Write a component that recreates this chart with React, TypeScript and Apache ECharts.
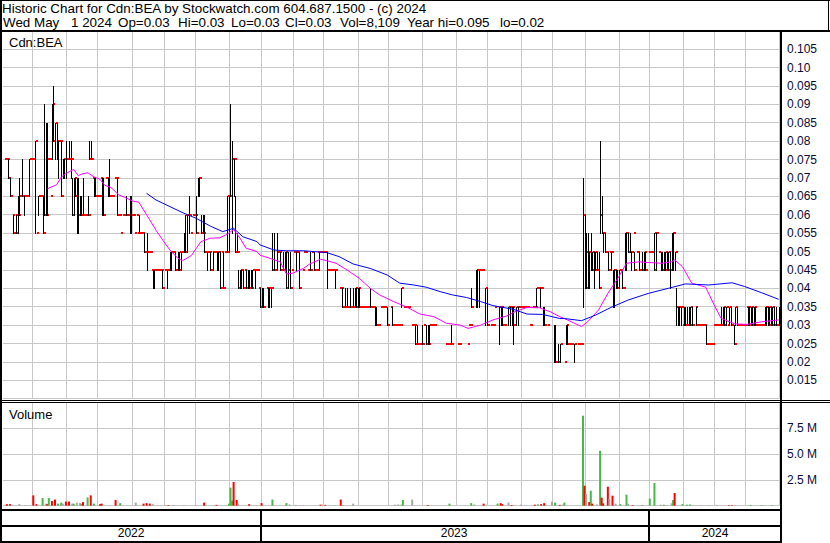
import React, { useEffect, useRef } from "react";
import * as echarts from "echarts";

const FONT = '"Liberation Sans", Arial, Helvetica, sans-serif';

// ---- calendar (TSX-V trading days) ----
const FIRST_DAY = [2022, 5, 4];
const LAST_DAY = [2024, 5, 1];
const HOLIDAYS = [
  "2022-05-23", "2022-07-01", "2022-08-01", "2022-09-05", "2022-10-10", "2022-12-26", "2022-12-27",
  "2023-01-02", "2023-02-20", "2023-04-07", "2023-05-22", "2023-07-03", "2023-08-07", "2023-09-04",
  "2023-10-09", "2023-12-25", "2023-12-26", "2024-01-01", "2024-02-19", "2024-03-29",
];

// ---- price data, thousandths of a dollar (0 = no trade) ----
const highMils = [
  75,75,75,75,70,60,60,60,60,65,
  70,65,75,65,65,65,75,75,75,75,
  80,55,65,65,65,65,90,85,85,75,
  65,90,95,85,85,80,80,80,75,75,
  80,75,80,80,70,70,70,70,70,65,
  65,70,60,60,65,80,80,70,70,70,
  65,65,70,70,70,70,70,70,75,65,
  65,70,70,70,60,55,60,60,60,65,
  60,65,65,60,55,60,55,60,55,55,
  55,50,55,50,50,45,45,45,45,45,
  45,45,45,45,45,45,45,50,50,50,
  50,45,50,50,50,50,55,60,60,65,
  55,60,60,60,65,70,70,60,60,60,
  50,50,50,50,50,50,50,50,50,
  50,50,50,50,50,65,65,90,80,75,
  65,55,45,45,45,45,45,45,45,45,
  45,45,45,45,45,40,40,40,40,0,
  40,40,40,40,55,55,50,55,50,50,
  45,50,50,50,50,50,45,50,50,50,
  50,50,0,45,50,50,45,45,50,50,
  0,50,45,50,50,50,50,50,50,50,
  45,45,45,45,45,0,0,40,40,40,
  0,40,40,35,40,35,40,40,40,40,
  40,35,35,35,35,35,35,40,35,35,
  35,35,30,35,35,35,35,0,35,0,
  35,35,30,30,30,30,30,40,35,
  35,35,35,0,30,30,30,30,30,25,
  25,30,30,0,30,30,30,30,30,30,
  0,0,0,0,0,0,25,25,25,0,
  30,0,0,0,25,25,0,0,0,0,
  25,30,30,40,0,0,45,45,45,45,
  45,0,40,40,0,30,30,30,35,0,
  0,35,35,35,30,0,0,35,35,35,
  35,0,35,35,35,35,35,35,35,35,
  30,30,35,35,35,40,40,40,40,35,
  35,0,30,0,0,0,30,30,20,25,
  25,0,0,20,30,30,25,25,0,25,
  0,25,25,25,25,70,60,55,55,50,
  55,50,50,50,50,50,80,65,55,55,
  50,50,50,50,45,45,45,45,45,45,
  45,40,55,55,55,55,50,55,50,50,
  50,50,45,50,50,50,0,50,50,50,
  45,55,55,50,0,50,50,50,50,50,
  50,50,55,55,50,40,35,35,35,30,
  35,35,35,35,35,35,0,35,35,30,
  30,30,30,30,30,25,25,25,25,30,
  30,30,30,30,35,35,35,35,30,35,
  35,0,30,35,35,30,30,30,30,30,
  35,35,35,35,35,35,35,30,30,30,
  30,30,35,35,35,35,35,35,35,35,
  30,35,30,
];
const lowMils = [
  75,75,75,70,65,60,55,60,55,55,
  60,65,65,60,65,65,65,75,75,75,
  55,55,60,65,65,55,60,60,60,75,
  65,75,80,75,75,70,80,65,70,70,
  70,75,75,70,60,60,65,55,55,60,
  60,60,60,60,60,75,75,70,65,65,
  65,65,70,60,60,70,70,65,65,65,
  65,70,70,60,60,55,60,60,60,60,
  60,55,55,60,55,60,55,55,55,55,
  50,50,45,50,50,45,40,40,45,45,
  45,45,40,45,45,40,45,45,45,50,
  45,45,45,45,45,50,50,50,50,55,
  55,60,60,60,55,65,65,55,55,50,
  50,45,50,45,50,45,50,45,45,
  40,50,40,50,50,50,50,65,55,65,
  50,50,40,40,40,40,45,40,40,40,
  40,40,45,40,45,40,35,35,35,0,
  40,35,35,35,45,45,50,45,50,45,
  45,45,45,40,40,40,45,50,50,45,
  50,40,0,45,50,50,45,45,45,50,
  0,45,45,50,45,50,50,50,50,40,
  45,45,45,45,40,0,0,40,40,35,
  0,35,35,35,35,35,35,35,35,35,
  35,35,35,35,35,35,35,35,35,35,
  30,30,30,35,35,35,35,0,30,0,
  35,30,30,30,30,30,30,35,35,
  35,35,35,0,30,30,30,25,25,25,
  25,25,30,0,25,25,25,30,30,30,
  0,0,0,0,0,0,25,25,25,0,
  25,0,0,0,25,25,0,0,0,0,
  25,30,30,35,0,0,35,35,35,45,
  45,0,30,30,0,30,30,30,35,0,
  0,25,30,30,30,0,0,30,30,30,
  25,0,30,30,35,35,35,35,35,35,
  30,30,35,35,35,35,40,35,40,30,
  30,0,30,0,0,0,20,20,20,20,
  20,0,0,20,25,25,25,25,0,20,
  0,25,25,25,25,35,40,40,40,40,
  45,45,40,45,45,40,55,55,50,50,
  50,45,50,45,35,35,40,40,40,45,
  40,40,45,45,50,50,45,55,45,50,
  50,45,45,45,45,45,0,50,50,50,
  45,45,45,50,0,45,45,45,45,45,
  45,40,45,45,45,30,30,30,30,30,
  30,30,30,30,30,30,0,35,30,30,
  30,30,30,30,25,25,25,25,25,30,
  30,30,30,30,30,30,30,30,30,30,
  30,0,25,30,30,30,30,30,30,30,
  35,30,30,30,30,30,30,30,30,30,
  30,30,30,30,30,30,30,30,30,30,
  30,30,30,
];
const closeMils = [
  75,75,75,70,65,60,55,60,55,60,
  65,65,65,65,65,65,75,75,75,75,
  80,55,65,65,65,55,60,60,75,75,
  65,90,80,85,80,80,80,65,75,75,
  75,75,75,75,60,70,65,60,60,60,
  60,60,60,60,60,75,75,70,65,65,
  65,65,70,60,60,70,70,65,65,65,
  65,70,70,60,60,55,60,60,60,60,
  60,60,60,60,55,60,55,55,55,55,
  50,50,50,50,50,45,45,45,45,45,
  45,45,40,45,45,45,45,50,50,50,
  45,45,45,50,50,50,50,60,60,60,
  55,60,60,60,55,70,70,55,55,50,
  50,50,50,45,50,50,50,50,50,
  40,50,40,50,50,65,65,65,75,75,
  50,50,40,45,45,40,45,40,40,40,
  40,45,45,45,45,40,35,35,35,0,
  40,40,40,40,45,45,50,50,50,45,
  45,45,50,40,45,40,45,50,50,50,
  50,40,0,45,50,50,45,45,45,50,
  0,45,45,50,50,50,50,50,50,45,
  45,45,45,45,45,0,0,40,40,35,
  0,35,35,35,35,35,35,40,35,40,
  35,35,35,35,35,35,35,35,35,35,
  30,30,30,35,35,35,35,0,30,0,
  35,30,30,30,30,30,30,40,35,
  35,35,35,0,30,30,30,25,25,25,
  25,25,30,0,25,25,30,30,30,30,
  0,0,0,0,0,0,25,25,25,0,
  25,0,0,0,25,25,0,0,0,0,
  25,30,30,35,0,0,45,45,45,45,
  45,0,40,30,0,30,30,30,35,0,
  0,35,35,30,30,0,0,35,35,35,
  30,0,35,35,35,35,35,35,35,35,
  30,30,35,35,35,40,40,40,40,30,
  30,0,30,0,0,0,20,20,20,20,
  25,0,0,20,30,25,25,25,0,25,
  0,25,25,25,25,60,50,40,50,50,
  45,50,45,50,45,40,60,55,55,50,
  50,45,50,50,45,45,40,40,45,45,
  40,40,55,55,50,50,50,55,45,50,
  50,45,45,45,50,45,0,50,50,50,
  45,55,55,50,0,45,45,45,50,45,
  50,45,55,55,50,35,35,35,35,30,
  30,30,30,30,35,30,0,35,30,30,
  30,30,30,30,25,25,25,25,25,30,
  30,30,30,30,30,35,30,35,30,35,
  30,0,25,35,30,30,30,30,30,30,
  35,35,30,35,30,35,30,30,30,30,
  30,30,35,35,30,35,30,35,30,30,
  30,35,30,
];

// ---- moving averages (day index, price) ----
const maShortIdx = [28,31,34,37,40,45,48,50,54,58,62,65,69,74,78,83,87,90,94,98,103,107,112,115,118,121,124,127,133,139,144,148,152,156,163,165,171,178,182,186,193,197,204,208,214,221,229,236,242,251,259,268,277,285,294,299,307,315,324,330,337,345,352,358,363,372,376,383,389,396,401,409,415,424,430,432,437,443,452,458,462,471,479,488,499];
const maShortVal = [0.0670,0.0676,0.0681,0.0702,0.0712,0.0723,0.0706,0.0710,0.0714,0.0703,0.0696,0.0680,0.0674,0.0654,0.0647,0.0637,0.0634,0.0613,0.0586,0.0558,0.0527,0.0504,0.0482,0.0475,0.0482,0.0490,0.0509,0.0527,0.0536,0.0537,0.0547,0.0560,0.0537,0.0509,0.0500,0.0490,0.0482,0.0472,0.0439,0.0441,0.0454,0.0466,0.0479,0.0475,0.0468,0.0450,0.0427,0.0400,0.0382,0.0364,0.0350,0.0330,0.0323,0.0305,0.0300,0.0291,0.0300,0.0314,0.0325,0.0338,0.0348,0.0347,0.0336,0.0323,0.0314,0.0296,0.0309,0.0341,0.0386,0.0431,0.0468,0.0472,0.0470,0.0468,0.0472,0.0477,0.0459,0.0414,0.0403,0.0350,0.0318,0.0303,0.0302,0.0309,0.0314];
const maLongIdx = [92,98,107,116,124,133,141,148,154,163,165,174,182,193,208,216,225,236,247,255,264,272,281,289,298,307,315,328,337,347,358,361,372,381,391,402,415,428,439,454,469,477,488,499];
const maLongVal = [0.0658,0.0640,0.0622,0.0604,0.0590,0.0569,0.0554,0.0563,0.0540,0.0527,0.0518,0.0504,0.0502,0.0502,0.0497,0.0486,0.0466,0.0454,0.0436,0.0414,0.0409,0.0403,0.0391,0.0382,0.0375,0.0364,0.0353,0.0343,0.0330,0.0329,0.0318,0.0318,0.0312,0.0327,0.0348,0.0368,0.0386,0.0400,0.0412,0.0409,0.0415,0.0405,0.0388,0.0370];

// ---- volume (day index, millions of shares, g=up r=down n=unchanged) ----
const volIdx = [2,4,10,14,19,21,25,27,28,29,31,33,35,37,38,40,42,44,45,47,49,50,51,54,56,58,62,63,72,75,85,90,92,94,96,104,106,109,116,124,129,137,143,145,146,147,148,150,151,158,163,166,173,182,184,188,193,204,205,207,213,217,218,225,252,254,256,257,263,273,287,301,303,309,318,320,321,325,327,333,342,344,346,348,353,355,358,360,361,373,374,375,377,378,379,382,384,385,386,389,390,392,394,397,401,402,405,411,416,419,423,425,427,430,431,432,437,440,442,449,454,459,467,469,481,488,495,500];
const volMillions = [0.15,0.15,0.15,0.06,1.0,0.15,0.75,0.2,0.15,0.75,0.45,0.6,0.2,0.3,0.2,0.4,0.4,0.2,0.2,0.3,0.25,0.2,0.35,0.8,1.0,0.2,0.15,0.2,0.55,0.25,0.3,0.2,0.25,0.2,0.15,0.06,0.06,0.05,0.05,0.05,0.3,0.08,0.05,0.2,1.75,0.5,2.3,0.55,0.2,0.15,0.05,0.25,0.6,0.25,0.12,0.08,0.05,0.1,0.1,0.08,0.05,0.6,0.06,0.2,0.1,0.12,0.1,0.55,0.6,0.06,0.2,0.25,0.12,0.2,0.2,0.25,0.15,0.3,0.06,0.1,0.1,0.12,0.15,0.25,0.4,0.3,0.08,0.1,0.3,8.72,1.94,1.13,0.36,1.45,0.2,0.13,5.33,0.78,0.23,1.84,0.65,0.97,0.2,0.15,1.07,0.19,0.06,0.03,0.68,2.2,0.1,0.1,0.06,0.23,0.55,1.23,0.15,0.1,0.12,0.05,0.05,0.08,0.05,0.05,0.05,0.05,0.05,0.008];
const volSide = ["r","r","n","n","r","r","g","n","r","g","r","r","g","g","n","r","r","n","g","n","n","g","r","g","r","g","r","r","r","g","n","r","r","r","n","n","r","n","n","n","r","r","n","g","g","g","r","r","n","r","n","r","g","g","n","n","n","r","n","r","n","r","g","n","n","n","n","g","n","r","g","g","n","r","g","r","r","n","r","n","r","g","r","r","n","g","r","n","g","g","r","n","r","g","r","n","g","r","r","r","n","r","n","g","g","n","r","r","g","g","n","g","n","n","g","r","g","g","g","n","n","n","r","r","g","g","g","n"];

const PRICE_TICKS = { min: 0.01, max: 0.11, step: 0.005 };
const VOL_TICKS = { min: 0, max: 10e6, step: 2.5e6 };

const TITLE = "Historic Chart for Cdn:BEA by Stockwatch.com 604.687.1500 - (c) 2024";
const QUOTE_PARTS = ["Wed May", "1 2024", "Op=0.03", "Hi=0.03", "Lo=0.03", "Cl=0.03", "Vol=8,109", "Year hi=0.095", "lo=0.02"];
const QUOTE_X = [3, 71, 118, 178, 231, 285, 340, 407, 500];

const VOL_COLORS: Record<string, string> = { g: "#46b946", r: "#ff0000", n: "#a8a8a8" };
const GRID_COLOR = "#c8c8c8";
const AXIS_TEXT = "#0a0a36";

function tradingDays(): string[] {
  const out: string[] = [];
  const d = new Date(Date.UTC(FIRST_DAY[0], FIRST_DAY[1] - 1, FIRST_DAY[2]));
  const end = Date.UTC(LAST_DAY[0], LAST_DAY[1] - 1, LAST_DAY[2]);
  while (d.getTime() <= end) {
    const wd = d.getUTCDay();
    const s = d.toISOString().slice(0, 10);
    if (wd !== 0 && wd !== 6 && HOLIDAYS.indexOf(s) < 0) out.push(s);
    d.setUTCDate(d.getUTCDate() + 1);
  }
  return out;
}

function buildOption() {
  const dates = tradingDays();
  const N = dates.length;
  const monthStart = (i: number) => i > 0 && i < N && dates[i].slice(0, 7) !== dates[i - 1].slice(0, 7);
  const yearStart = (i: number) => i > 0 && i < N && dates[i].slice(0, 4) !== dates[i - 1].slice(0, 4);

  // year label positions: middle day of each calendar year span
  const yearLabelIdx: number[] = [];
  let s = 0;
  for (let i = 1; i <= N; i++) {
    if (i === N || yearStart(i)) {
      yearLabelIdx.push(Math.floor((s + i - 1) / 2));
      s = i;
    }
  }

  const ohlc: number[][] = [];
  for (let i = 0; i < Math.min(N, highMils.length); i++) {
    if (highMils[i] > 0) ohlc.push([i, highMils[i] / 1000, lowMils[i] / 1000, closeMils[i] / 1000]);
  }
  const maShort = maShortIdx.map((x, k) => [x, maShortVal[k]]);
  const maLong = maLongIdx.map((x, k) => [x, maLongVal[k]]);

  const vol: any[] = new Array(N).fill("-");
  volIdx.forEach((x, k) => {
    if (x < N) vol[x] = { value: volMillions[k] * 1e6, itemStyle: { color: VOL_COLORS[volSide[k]] } };
  });

  const L = 3, W = 778;
  const priceTop = 30.7, priceH = 368;
  const volTop = 402.5, volH = 103.2;

  const priceFmt = (v: number) => {
    const r = Math.round(v * 1000) / 1000;
    if (r <= PRICE_TICKS.min + 1e-9 || r >= PRICE_TICKS.max - 1e-9) return "";
    if (Math.abs(r - 0.1) < 1e-9) return "0.10";
    return String(r);
  };
  const volFmt = (v: number) => (v <= 0 || v >= VOL_TICKS.max ? "" : (v / 1e6).toFixed(1) + " M");

  const hiddenCat = (gi: number) => ({
    type: "category", gridIndex: gi, data: dates, boundaryGap: true,
    axisLine: { show: false }, axisTick: { show: false }, axisLabel: { show: false },
    splitLine: { show: true, interval: (i: number) => monthStart(i), lineStyle: { color: GRID_COLOR, width: 1 } },
  });

  const bar = (x: number, y: number, w: number, h: number) => ({
    type: "rect", shape: { x, y, width: w, height: h }, style: { fill: "#000" }, silent: true, z: 100,
  });
  const txt = (x: number, y: number, text: string, size: number) => ({
    type: "text", x, y, z: 101, silent: true,
    style: {
      text, fill: "#000", font: `${size}px ${FONT}`, fontSize: size, fontFamily: FONT,
      verticalAlign: "middle", textVerticalAlign: "middle",
    },
  });

  return {
    animation: false,
    backgroundColor: "#ffffff",
    grid: [
      { left: L, top: priceTop, width: W, height: priceH },
      { left: L, top: volTop, width: W, height: volH },
      { left: L, top: 511, width: W, height: 30 },
    ],
    xAxis: [
      hiddenCat(0),
      hiddenCat(1),
      {
        type: "category", gridIndex: 2, data: dates, boundaryGap: true,
        axisLine: { show: false }, axisTick: { show: false },
        axisLabel: {
          show: true, inside: true, margin: 2,
          interval: (i: number) => yearLabelIdx.indexOf(i) >= 0,
          formatter: (v: string) => v.slice(0, 4),
          color: "#000", fontSize: 12, fontFamily: FONT,
        },
        splitLine: { show: true, interval: (i: number) => yearStart(i), lineStyle: { color: "#000", width: 2 } },
      },
    ],
    yAxis: [
      {
        type: "value", gridIndex: 0, position: "right",
        min: PRICE_TICKS.min, max: PRICE_TICKS.max, interval: PRICE_TICKS.step,
        axisLine: { show: false }, axisTick: { show: false },
        axisLabel: { margin: 6, color: AXIS_TEXT, fontSize: 12, fontFamily: FONT, formatter: priceFmt },
        splitLine: { show: true, lineStyle: { color: GRID_COLOR, width: 1 } },
      },
      {
        type: "value", gridIndex: 1, position: "right",
        min: VOL_TICKS.min, max: VOL_TICKS.max, interval: VOL_TICKS.step,
        axisLine: { show: false }, axisTick: { show: false },
        axisLabel: { margin: 6, color: AXIS_TEXT, fontSize: 12, fontFamily: FONT, formatter: volFmt },
        splitLine: { show: true, lineStyle: { color: GRID_COLOR, width: 1 } },
      },
      { type: "value", gridIndex: 2, show: false, min: 0, max: 1 },
    ],
    series: [
      {
        type: "custom", name: "Cdn:BEA", xAxisIndex: 0, yAxisIndex: 0, data: ohlc, clip: true, z: 2,
        encode: { x: 0, y: [1, 2, 3] },
        renderItem: (_p: any, api: any) => {
          const i = api.value(0);
          const top = api.coord([i, api.value(1)]);
          const bot = api.coord([i, api.value(2)]);
          const cls = api.coord([i, api.value(3)]);
          const x = Math.round(top[0]) + 0.5;
          const children: any[] = [];
          if (Math.abs(bot[1] - top[1]) > 0.5) {
            children.push({
              type: "line",
              shape: { x1: x, y1: Math.round(top[1]), x2: x, y2: Math.round(bot[1]) + 1 },
              style: { stroke: "#000", lineWidth: 1 },
            });
          }
          children.push({
            type: "rect",
            shape: { x: x + 0.5, y: Math.round(cls[1]) - 1, width: 2, height: 2 },
            style: { fill: "#ff0000" },
          });
          return { type: "group", children };
        },
      },
      {
        type: "line", name: "MA short", xAxisIndex: 0, yAxisIndex: 0, data: maShort, z: 3,
        showSymbol: false, symbol: "none", lineStyle: { color: "#ff00ff", width: 1 }, itemStyle: { color: "#ff00ff" },
      },
      {
        type: "line", name: "MA long", xAxisIndex: 0, yAxisIndex: 0, data: maLong, z: 3,
        showSymbol: false, symbol: "none", lineStyle: { color: "#0000ff", width: 1 }, itemStyle: { color: "#0000ff" },
      },
      {
        type: "bar", name: "Volume", xAxisIndex: 1, yAxisIndex: 1, data: vol, barWidth: 2, z: 2,
      },
    ],
    graphic: {
      elements: [
        bar(0, 0, 830, 1),
        bar(0, 0, 2, 543),
        bar(828, 0, 1, 31),
        bar(0, 30, 830, 2),
        bar(780, 30, 2, 513),
        bar(0, 400, 830, 1),
        bar(0, 402, 830, 1),
        bar(0, 509, 782, 2),
        bar(0, 525, 782, 2),
        bar(0, 541, 782, 2),
        txt(2, 8.3, TITLE, 13.4),
        ...QUOTE_PARTS.map((t, k) => txt(QUOTE_X[k], 22.3, t, 13.4)),
        txt(9, 42, "Cdn:BEA", 13),
        txt(9, 414, "Volume", 13),
      ],
    },
  };
}

export default function App() {
  const ref = useRef<HTMLDivElement>(null);
  useEffect(() => {
    if (!ref.current) return;
    const chart = echarts.init(ref.current, null, { renderer: "svg" });
    chart.setOption(buildOption() as any);
    return () => chart.dispose();
  }, []);
  return (
    <div style={{ position: "fixed", left: 0, top: 0, width: 830, height: 543, background: "#fff" }}>
      <div ref={ref} style={{ width: 830, height: 543 }} />
    </div>
  );
}
